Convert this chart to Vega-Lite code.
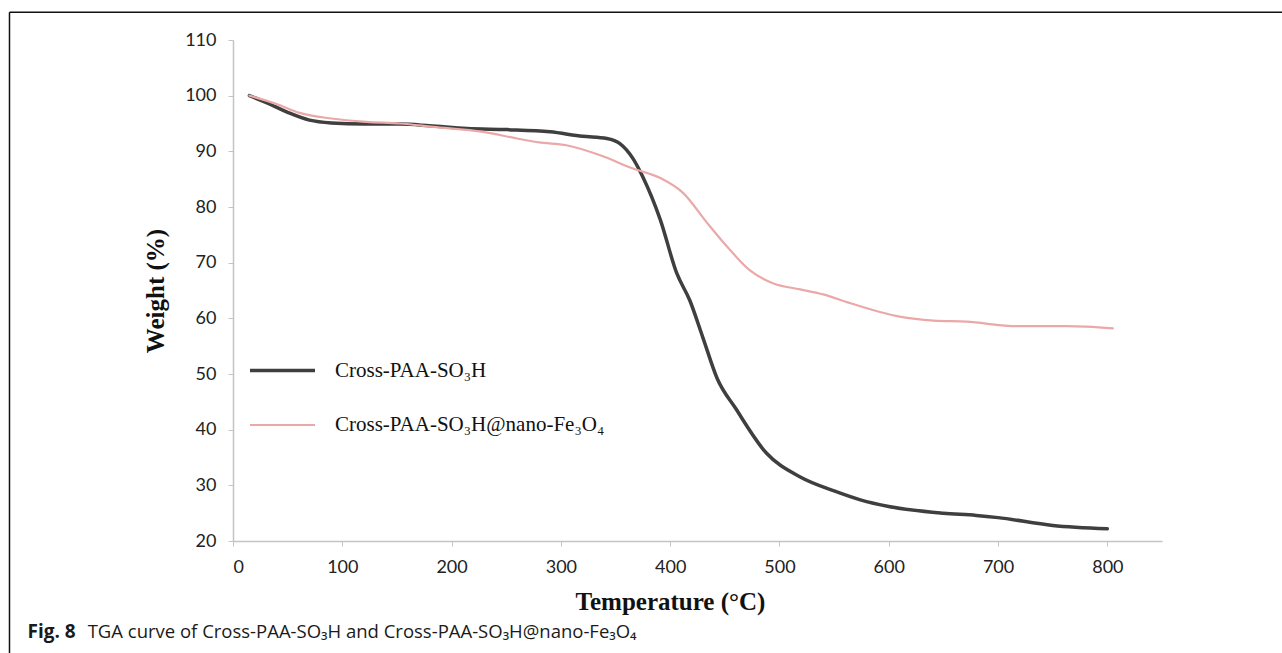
{
  "$schema": "https://vega.github.io/schema/vega-lite/v6.json",
  "width": 929,
  "height": 501,
  "autosize": {"type": "none"},
  "padding": {"left": 233, "top": 40, "right": 120, "bottom": 112},
  "background": "white",
  "config": {
    "view": {"stroke": null},
    "axis": {
      "grid": false,
      "domainColor": "#c4c4c4",
      "domainWidth": 1.5,
      "tickColor": "#c4c4c4",
      "tickSize": 5,
      "labelFont": "Lato",
      "labelFontSize": 18,
      "labelColor": "#222222",
      "titleFont": "Liberation Serif",
      "titleFontWeight": "bold",
      "titleColor": "#111111"
    }
  },
  "datasets": {
    "tga": [
      {"sample": "Cross-PAA-SO₃H", "temperature": 15, "weight": 100},
      {"sample": "Cross-PAA-SO₃H", "temperature": 30, "weight": 98.8},
      {"sample": "Cross-PAA-SO₃H", "temperature": 50, "weight": 97},
      {"sample": "Cross-PAA-SO₃H", "temperature": 70, "weight": 95.6},
      {"sample": "Cross-PAA-SO₃H", "temperature": 90, "weight": 95.1},
      {"sample": "Cross-PAA-SO₃H", "temperature": 120, "weight": 94.9},
      {"sample": "Cross-PAA-SO₃H", "temperature": 153, "weight": 94.9},
      {"sample": "Cross-PAA-SO₃H", "temperature": 180, "weight": 94.6},
      {"sample": "Cross-PAA-SO₃H", "temperature": 214, "weight": 94.1},
      {"sample": "Cross-PAA-SO₃H", "temperature": 251, "weight": 93.9},
      {"sample": "Cross-PAA-SO₃H", "temperature": 290, "weight": 93.5},
      {"sample": "Cross-PAA-SO₃H", "temperature": 320, "weight": 92.7},
      {"sample": "Cross-PAA-SO₃H", "temperature": 342, "weight": 92.3},
      {"sample": "Cross-PAA-SO₃H", "temperature": 354, "weight": 91.4},
      {"sample": "Cross-PAA-SO₃H", "temperature": 366, "weight": 88.7},
      {"sample": "Cross-PAA-SO₃H", "temperature": 375, "weight": 85.4},
      {"sample": "Cross-PAA-SO₃H", "temperature": 391, "weight": 77.7},
      {"sample": "Cross-PAA-SO₃H", "temperature": 406, "weight": 68.1},
      {"sample": "Cross-PAA-SO₃H", "temperature": 418, "weight": 63.2},
      {"sample": "Cross-PAA-SO₃H", "temperature": 430, "weight": 56.5},
      {"sample": "Cross-PAA-SO₃H", "temperature": 443, "weight": 49.2},
      {"sample": "Cross-PAA-SO₃H", "temperature": 460, "weight": 43.8},
      {"sample": "Cross-PAA-SO₃H", "temperature": 488, "weight": 35.8},
      {"sample": "Cross-PAA-SO₃H", "temperature": 519, "weight": 31.5},
      {"sample": "Cross-PAA-SO₃H", "temperature": 550, "weight": 29},
      {"sample": "Cross-PAA-SO₃H", "temperature": 574, "weight": 27.4},
      {"sample": "Cross-PAA-SO₃H", "temperature": 600, "weight": 26.2},
      {"sample": "Cross-PAA-SO₃H", "temperature": 650, "weight": 25},
      {"sample": "Cross-PAA-SO₃H", "temperature": 680, "weight": 24.6},
      {"sample": "Cross-PAA-SO₃H", "temperature": 700, "weight": 24.2},
      {"sample": "Cross-PAA-SO₃H", "temperature": 750, "weight": 22.8},
      {"sample": "Cross-PAA-SO₃H", "temperature": 800, "weight": 22.2},
      {"sample": "Cross-PAA-SO₃H@nano-Fe₃O₄", "temperature": 15, "weight": 100},
      {"sample": "Cross-PAA-SO₃H@nano-Fe₃O₄", "temperature": 40, "weight": 98.5},
      {"sample": "Cross-PAA-SO₃H@nano-Fe₃O₄", "temperature": 61, "weight": 96.9},
      {"sample": "Cross-PAA-SO₃H@nano-Fe₃O₄", "temperature": 90, "weight": 95.9},
      {"sample": "Cross-PAA-SO₃H@nano-Fe₃O₄", "temperature": 122, "weight": 95.3},
      {"sample": "Cross-PAA-SO₃H@nano-Fe₃O₄", "temperature": 153, "weight": 95.0},
      {"sample": "Cross-PAA-SO₃H@nano-Fe₃O₄", "temperature": 183, "weight": 94.4},
      {"sample": "Cross-PAA-SO₃H@nano-Fe₃O₄", "temperature": 229, "weight": 93.5},
      {"sample": "Cross-PAA-SO₃H@nano-Fe₃O₄", "temperature": 260, "weight": 92.3},
      {"sample": "Cross-PAA-SO₃H@nano-Fe₃O₄", "temperature": 280, "weight": 91.6},
      {"sample": "Cross-PAA-SO₃H@nano-Fe₃O₄", "temperature": 305, "weight": 91.1},
      {"sample": "Cross-PAA-SO₃H@nano-Fe₃O₄", "temperature": 336, "weight": 89.3},
      {"sample": "Cross-PAA-SO₃H@nano-Fe₃O₄", "temperature": 366, "weight": 86.9},
      {"sample": "Cross-PAA-SO₃H@nano-Fe₃O₄", "temperature": 391, "weight": 85.2},
      {"sample": "Cross-PAA-SO₃H@nano-Fe₃O₄", "temperature": 412, "weight": 82.5},
      {"sample": "Cross-PAA-SO₃H@nano-Fe₃O₄", "temperature": 434, "weight": 77.1},
      {"sample": "Cross-PAA-SO₃H@nano-Fe₃O₄", "temperature": 452, "weight": 72.9},
      {"sample": "Cross-PAA-SO₃H@nano-Fe₃O₄", "temperature": 473, "weight": 68.6},
      {"sample": "Cross-PAA-SO₃H@nano-Fe₃O₄", "temperature": 494, "weight": 66.3},
      {"sample": "Cross-PAA-SO₃H@nano-Fe₃O₄", "temperature": 519, "weight": 65.2},
      {"sample": "Cross-PAA-SO₃H@nano-Fe₃O₄", "temperature": 540, "weight": 64.3},
      {"sample": "Cross-PAA-SO₃H@nano-Fe₃O₄", "temperature": 565, "weight": 62.7},
      {"sample": "Cross-PAA-SO₃H@nano-Fe₃O₄", "temperature": 610, "weight": 60.3},
      {"sample": "Cross-PAA-SO₃H@nano-Fe₃O₄", "temperature": 641, "weight": 59.6},
      {"sample": "Cross-PAA-SO₃H@nano-Fe₃O₄", "temperature": 671, "weight": 59.4},
      {"sample": "Cross-PAA-SO₃H@nano-Fe₃O₄", "temperature": 717, "weight": 58.6},
      {"sample": "Cross-PAA-SO₃H@nano-Fe₃O₄", "temperature": 763, "weight": 58.6},
      {"sample": "Cross-PAA-SO₃H@nano-Fe₃O₄", "temperature": 805, "weight": 58.2}
    ]
  },
  "layer": [
    {
      "data": {"values": [{"edge": "frame"}]},
      "mark": {"type": "rule", "color": "#111111", "strokeWidth": 1.5, "clip": false},
      "encoding": {
        "x": {"datum": -204.5},
        "x2": {"datum": 1000},
        "y": {"datum": 115.0}
      }
    },
    {
      "data": {"values": [{"edge": "frame"}]},
      "mark": {"type": "rule", "color": "#111111", "strokeWidth": 1.5, "clip": false},
      "encoding": {
        "x": {"datum": -204.5},
        "y": {"datum": 115.0},
        "y2": {"datum": -2}
      }
    },
    {
      "data": {"name": "tga"},
      "mark": {"type": "line", "interpolate": "monotone", "strokeCap": "round"},
      "encoding": {
        "x": {
          "field": "temperature",
          "type": "quantitative",
          "scale": {"domain": [0, 850], "nice": false, "zero": false},
          "axis": {
            "title": "Temperature (°C)",
            "values": [0, 100, 200, 300, 400, 500, 600, 700, 800],
            "labelPadding": 12,
            "titlePadding": 13,
            "titleFontSize": 25,
            "titleX": 437
          }
        },
        "y": {
          "field": "weight",
          "type": "quantitative",
          "scale": {"domain": [20, 110], "nice": false, "zero": false},
          "axis": {
            "title": "Weight (%)",
            "values": [20, 30, 40, 50, 60, 70, 80, 90, 100, 110],
            "labelPadding": 12,
            "titlePadding": 16,
            "titleFontSize": 25
          }
        },
        "color": {
          "field": "sample",
          "type": "nominal",
          "scale": {
            "domain": ["Cross-PAA-SO₃H", "Cross-PAA-SO₃H@nano-Fe₃O₄"],
            "range": ["#3f3f3f", "#eba8a8"]
          },
          "legend": {
            "title": null,
            "orient": "none",
            "legendX": 15,
            "legendY": 296,
            "symbolType": "stroke",
            "symbolSize": 4225,
            "rowPadding": 10,
            "labelOffset": 18,
            "labelLimit": 0,
            "labelFont": "Liberation Serif",
            "labelFontSize": 21,
            "labelColor": "#111111",
            "padding": 0
          }
        },
        "strokeWidth": {
          "field": "sample",
          "type": "nominal",
          "scale": {
            "domain": ["Cross-PAA-SO₃H", "Cross-PAA-SO₃H@nano-Fe₃O₄"],
            "range": [3.5, 2.2]
          },
          "legend": {
            "title": null,
            "orient": "none",
            "legendX": 15,
            "legendY": 296,
            "symbolType": "stroke",
            "symbolSize": 4225,
            "rowPadding": 10,
            "labelOffset": 18,
            "labelLimit": 0,
            "labelFont": "Liberation Serif",
            "labelFontSize": 21,
            "labelColor": "#111111",
            "padding": 0
          }
        }
      }
    },
    {
      "data": {"values": [{"caption": "Fig. 8"}]},
      "mark": {"type": "text", "align": "left", "baseline": "middle", "font": "Open Sans", "fontSize": 19, "fontWeight": "bold", "color": "#1a1a1a"},
      "encoding": {
        "text": {"field": "caption", "type": "nominal"},
        "x": {"datum": -188},
        "y": {"datum": 3.6}
      }
    },
    {
      "data": {"values": [{"caption": "TGA curve of Cross-PAA-SO₃H and Cross-PAA-SO₃H@nano-Fe₃O₄"}]},
      "mark": {"type": "text", "align": "left", "baseline": "middle", "font": "Open Sans", "fontSize": 18.5, "color": "#1a1a1a"},
      "encoding": {
        "text": {"field": "caption", "type": "nominal"},
        "x": {"datum": -133},
        "y": {"datum": 3.6}
      }
    }
  ]
}
